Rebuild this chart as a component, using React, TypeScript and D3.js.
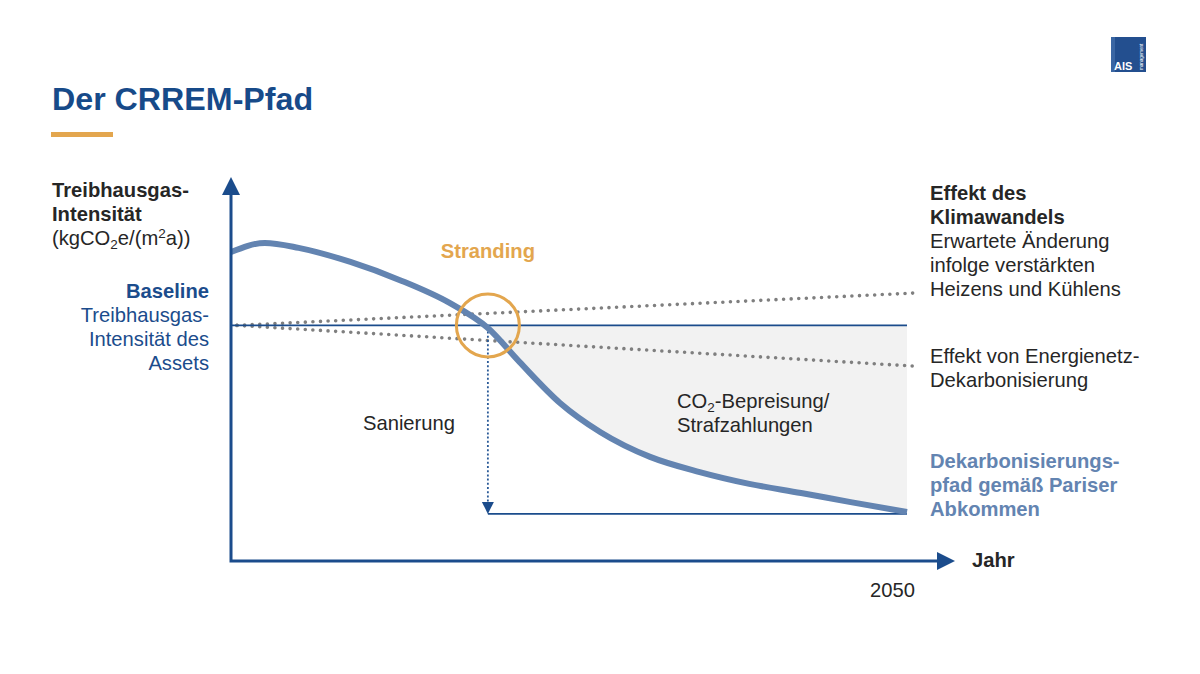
import React from "react";
import * as d3 from "d3";

// ---- data (conceptual diagram) ----
const YEARS = [2020, 2021.5, 2023, 2025.3, 2027.5, 2029.7, 2031.4, 2032.8, 2034.6, 2036.4, 2038.6, 2040.8, 2043, 2045.3, 2047.5, 2050];
const ASSET_PATH = [81.3, 83.7, 82.4, 78.7, 73.9, 67.9, 61.3, 52.4, 41.6, 33.9, 27.4, 23.4, 20.3, 17.9, 15.5, 12.9];
const BASELINE = 62;
const CLIMATE_EFFECT = [62, 70.5]; // 2020 -> 2050
const GRID_EFFECT = [62, 51.3]; // 2020 -> 2050
const EFFECT_YEARS = [2020, 2050];
const STRANDING_YEAR = 2031.4;
const TARGET_2050 = 12.4;
const X_TICKS = ["2050"];

const W = 1200;
const H = 674;
const FONT = "'Liberation Sans', Arial, Helvetica, sans-serif";
const FS = 20.2;
const DARK = "#262626";
const NAVY = "#1b4c8c";
const STEEL = "#6384b1";
const ORANGE = "#e3a64e";

export default function App() {
  const x = d3.scaleLinear().domain([2020, 2050]).range([231, 907]);
  const y = d3.scaleLinear().domain([0, 100]).range([561, 181]);

  const pts = YEARS.map((yr, i) => ({ yr, v: ASSET_PATH[i] }));
  const line = d3
    .line<{ yr: number; v: number }>()
    .x((d) => x(d.yr))
    .y((d) => y(d.v))
    .curve(d3.curveMonotoneX);
  const area = d3
    .area<{ yr: number; v: number }>()
    .x((d) => x(d.yr))
    .y0(y(BASELINE))
    .y1((d) => y(d.v))
    .curve(d3.curveMonotoneX);

  const effLine = (vals: number[]) =>
    d3
      .line<number>()
      .x((_, i) => x(EFFECT_YEARS[i]))
      .y((d) => y(d))(vals) as string;

  const x0 = x(2020);
  const y0 = y(0);
  const yBase = y(BASELINE);
  const xs = x(STRANDING_YEAR);
  const yT = y(TARGET_2050);
  const axisTopY = 177;
  const axisRightX = 955;

  const t = (props: any, children: any) => (
    <text fontFamily={FONT} fontSize={FS} {...props}>
      {children}
    </text>
  );

  return (
    <svg
      width={W}
      height={H}
      viewBox={`0 0 ${W} ${H}`}
      style={{ position: "absolute", left: 0, top: 0, display: "block", background: "#fff" }}
    >
      <defs>
        <clipPath id="fillClip">
          <rect x={xs} y={yBase} width={x(2050) - xs} height={y0 - yBase} />
        </clipPath>
      </defs>

      {/* Title */}
      <text x={52} y={110} fontFamily={FONT} fontSize={32.2} fontWeight="bold" fill="#174a89">
        Der CRREM-Pfad
      </text>
      <rect x={51} y={132} width={62} height={5} fill={ORANGE} />

      {/* Logo */}
      <g>
        <rect x={1111} y={37} width={35} height={35} fill="#234f8f" />
        <rect x={1111} y={37} width={4} height={35} fill="#3a66a3" />
        <text x={1114} y={70} fontFamily={FONT} fontSize={11} fontWeight="bold" fill="#fff">
          AIS
        </text>
        <text
          transform="translate(1143,70) rotate(-90)"
          fontFamily={FONT}
          fontSize={4.5}
          fill="#fff"
        >
          management
        </text>
      </g>

      {/* gray area */}
      <path d={area(pts) as string} fill="#f2f2f2" clipPath="url(#fillClip)" />

      {/* dotted effect lines */}
      <path
        d={effLine(CLIMATE_EFFECT)}
        stroke="#7f7f7f"
        strokeWidth={3.6}
        strokeLinecap="round"
        strokeDasharray="0 7.6"
        fill="none"
        transform="translate(6,0)"
      />
      <path
        d={effLine(GRID_EFFECT)}
        stroke="#7f7f7f"
        strokeWidth={3.6}
        strokeLinecap="round"
        strokeDasharray="0 7.6"
        fill="none"
        transform="translate(6,0)"
      />

      {/* baseline */}
      <line x1={x0} x2={x(2050)} y1={yBase} y2={yBase} stroke={NAVY} strokeWidth={1.6} />

      {/* target line */}
      <line x1={xs} x2={x(2050)} y1={yT} y2={yT} stroke={NAVY} strokeWidth={1.8} />

      {/* vertical dotted arrow */}
      <line
        x1={xs}
        x2={xs}
        y1={yBase + 2}
        y2={yT - 11}
        stroke="#2a5a98"
        strokeWidth={1.8}
        strokeDasharray="2 2.2"
      />
      <path d={`M${xs - 6},${yT - 12} L${xs + 6},${yT - 12} L${xs},${yT} Z`} fill={NAVY} />

      {/* asset decarbonisation path */}
      <path d={line(pts) as string} fill="none" stroke={STEEL} strokeWidth={6} strokeLinecap="butt" />

      {/* stranding circle */}
      <circle cx={xs} cy={yBase} r={31.5} fill="none" stroke={ORANGE} strokeWidth={3} />

      {/* axes */}
      <path
        d={`M${x0},${axisTopY + 14} L${x0},${y0} L${axisRightX - 14},${y0}`}
        fill="none"
        stroke={NAVY}
        strokeWidth={3}
      />
      <path d={`M${x0 - 9},${axisTopY + 18} L${x0 + 9},${axisTopY + 18} L${x0},${axisTopY} Z`} fill={NAVY} />
      <path d={`M${axisRightX - 18},${y0 - 9} L${axisRightX - 18},${y0 + 9} L${axisRightX},${y0} Z`} fill={NAVY} />

      {/* x tick label */}
      {X_TICKS.map((tk) => (
        <text key={tk} x={x(2050) + 8} y={597} textAnchor="end" fontFamily={FONT} fontSize={FS} fill={DARK}>
          {tk}
        </text>
      ))}
      {t({ x: 972, y: 567, fontWeight: "bold", fill: DARK }, "Jahr")}

      {/* y axis label */}
      {t({ x: 52, y: 197, fontWeight: "bold", fill: DARK }, "Treibhausgas-")}
      {t({ x: 52, y: 221, fontWeight: "bold", fill: DARK }, "Intensität")}
      <text x={52} y={245} fontFamily={FONT} fontSize={FS} fill={DARK}>
        <tspan>(kgCO</tspan>
        <tspan fontSize={13.5} dy={4}>2</tspan>
        <tspan dy={-4}>e/(m</tspan>
        <tspan fontSize={13.5} dy={-7}>2</tspan>
        <tspan dy={7}>a))</tspan>
      </text>

      {/* baseline labels */}
      {t({ x: 209, y: 298, textAnchor: "end", fontWeight: "bold", fill: NAVY }, "Baseline")}
      {t({ x: 209, y: 322, textAnchor: "end", fill: NAVY }, "Treibhausgas-")}
      {t({ x: 209, y: 346, textAnchor: "end", fill: NAVY }, "Intensität des")}
      {t({ x: 209, y: 370, textAnchor: "end", fill: NAVY }, "Assets")}

      {/* stranding */}
      {t({ x: xs, y: 258, textAnchor: "middle", fontWeight: "bold", fill: ORANGE }, "Stranding")}

      {/* inner labels */}
      {t({ x: 409, y: 430, textAnchor: "middle", fill: DARK }, "Sanierung")}
      <text x={677} y={408} fontFamily={FONT} fontSize={FS} fill={DARK}>
        <tspan>CO</tspan>
        <tspan fontSize={13.5} dy={4}>2</tspan>
        <tspan dy={-4}>-Bepreisung/</tspan>
      </text>
      {t({ x: 677, y: 432, fill: DARK }, "Strafzahlungen")}

      {/* right labels */}
      {t({ x: 930, y: 200, fontWeight: "bold", fill: DARK }, "Effekt des")}
      {t({ x: 930, y: 224, fontWeight: "bold", fill: DARK }, "Klimawandels")}
      {t({ x: 930, y: 248, fill: DARK }, "Erwartete Änderung")}
      {t({ x: 930, y: 272, fill: DARK }, "infolge verstärkten")}
      {t({ x: 930, y: 296, fill: DARK }, "Heizens und Kühlens")}

      {t({ x: 930, y: 363, fill: DARK }, "Effekt von Energienetz-")}
      {t({ x: 930, y: 387, fill: DARK }, "Dekarbonisierung")}

      {t({ x: 930, y: 468, fontWeight: "bold", fill: STEEL }, "Dekarbonisierungs-")}
      {t({ x: 930, y: 492, fontWeight: "bold", fill: STEEL }, "pfad gemäß Pariser")}
      {t({ x: 930, y: 516, fontWeight: "bold", fill: STEEL }, "Abkommen")}
    </svg>
  );
}
